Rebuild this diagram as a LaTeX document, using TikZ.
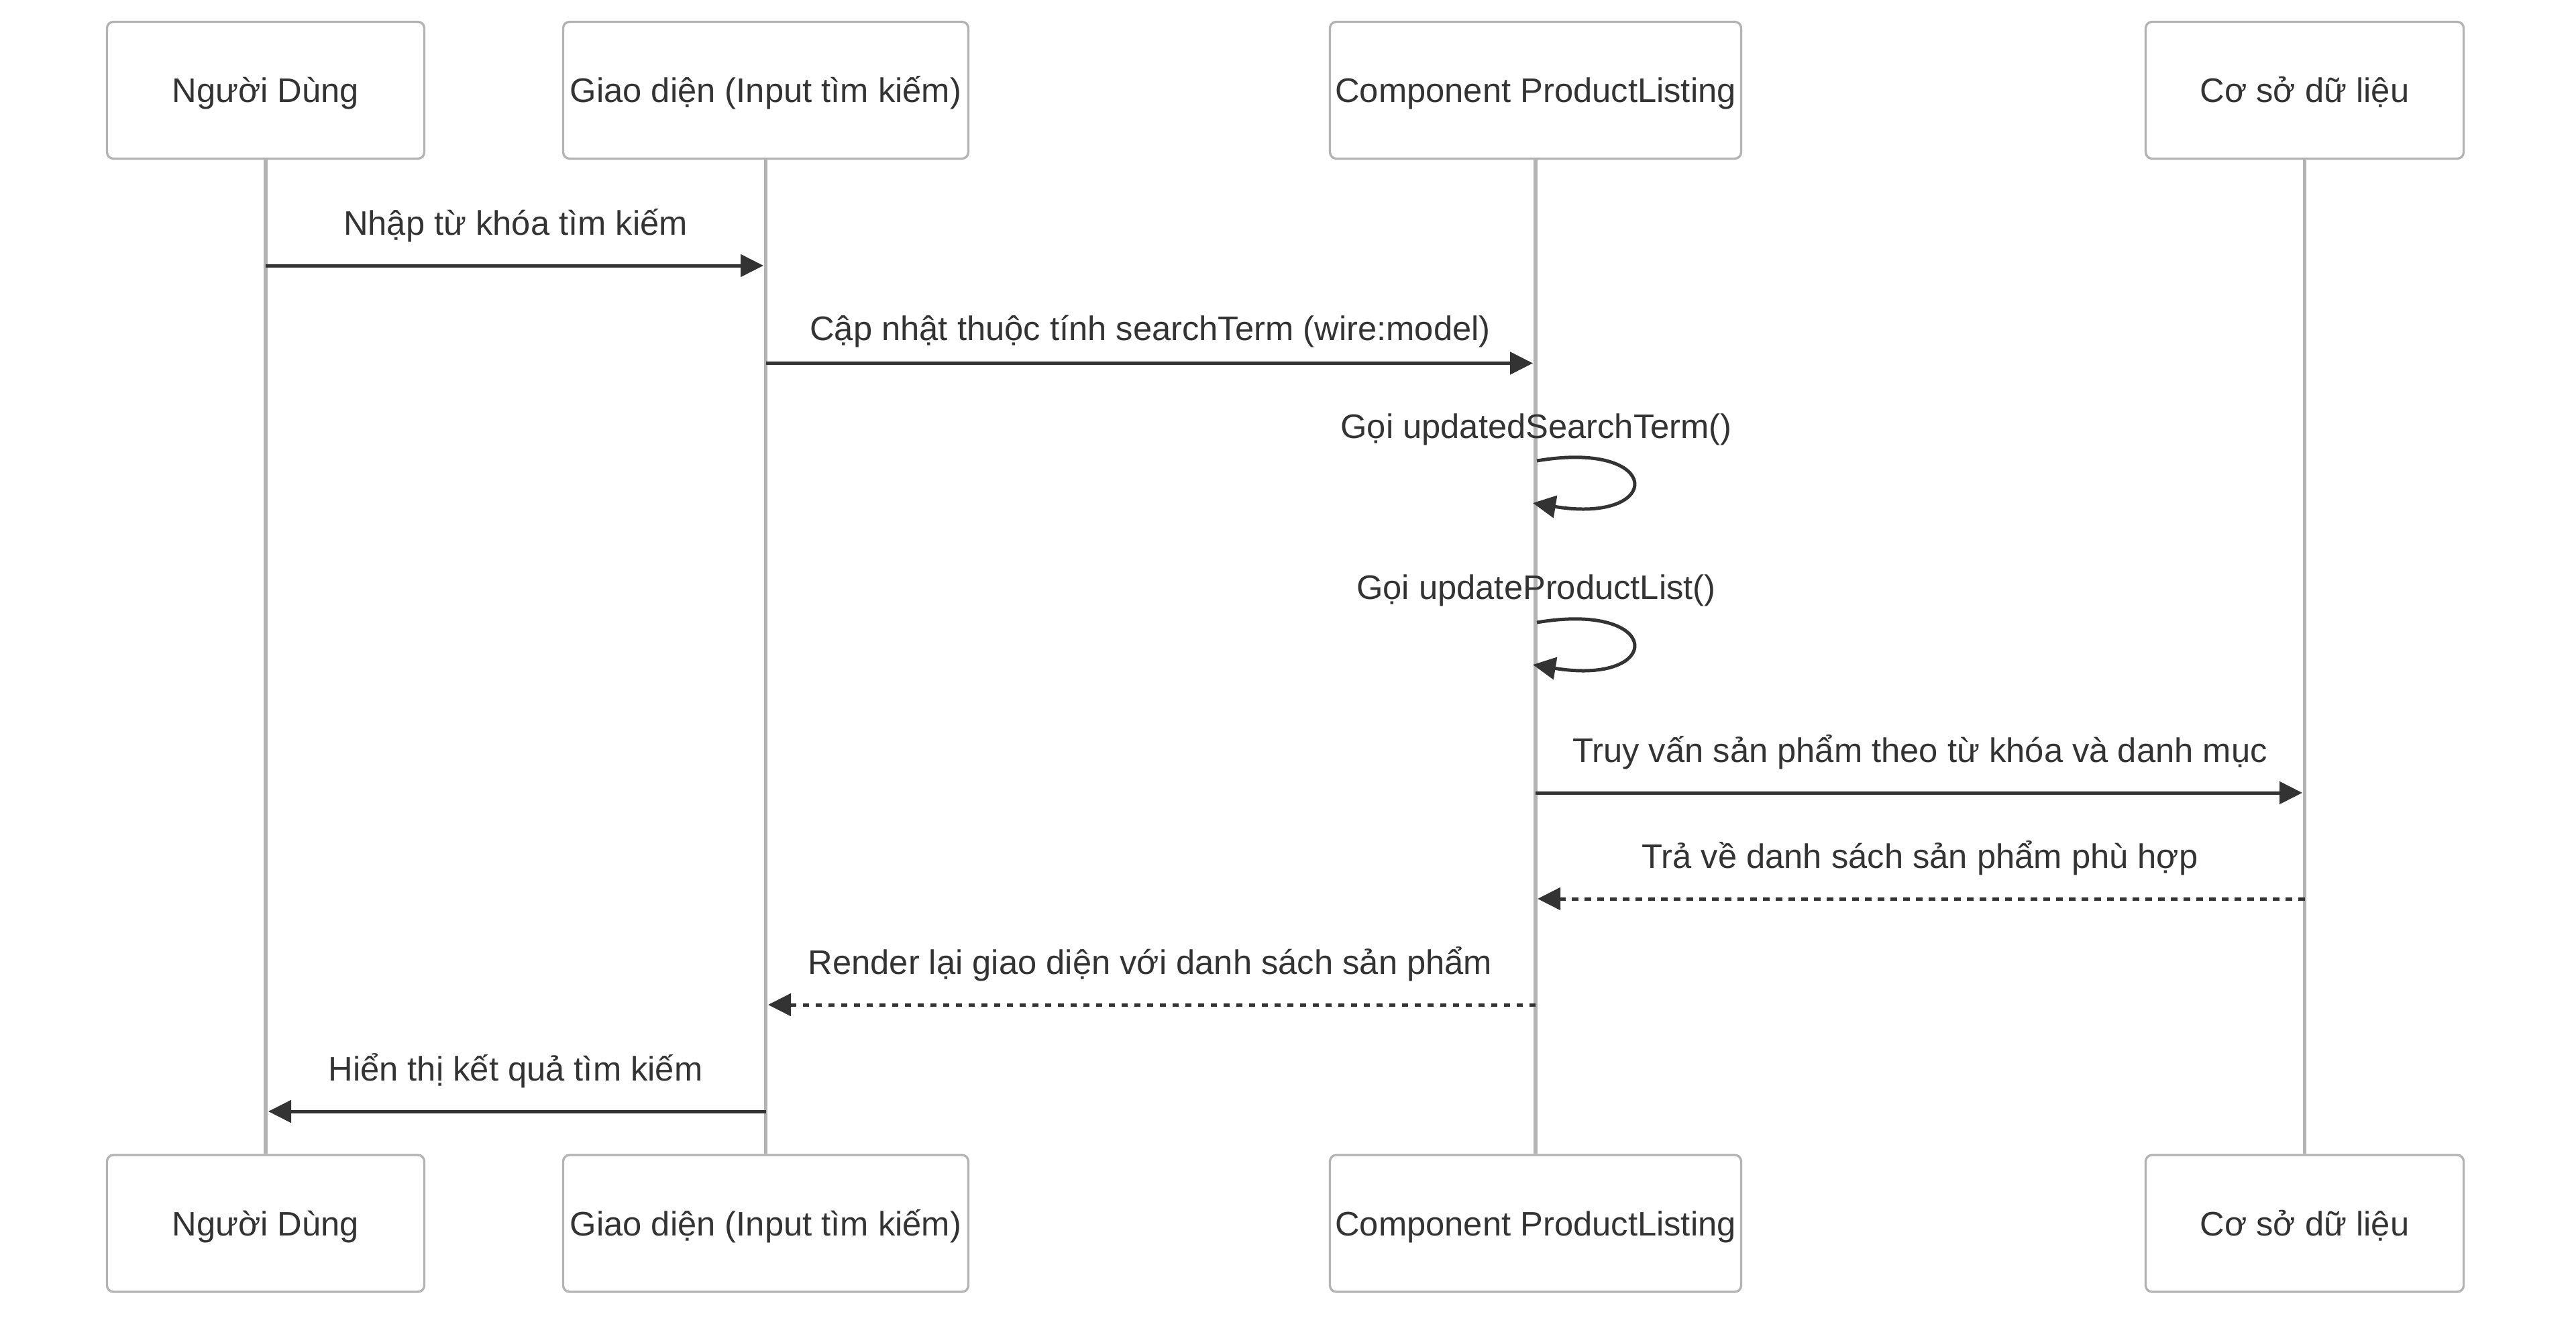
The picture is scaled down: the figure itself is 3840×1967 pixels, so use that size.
\documentclass[tikz,border=0pt]{standalone}
\usepackage{fontspec}
\setmainfont{Liberation Sans}
\usetikzlibrary{arrows.meta}
\definecolor{boxline}{HTML}{B3B3B3}
\definecolor{ink}{HTML}{333333}
\begin{document}
\begin{tikzpicture}[x=1pt,y=-1pt,
  actor/.style={draw=boxline, line width=3.3pt, fill=white, rounded corners=9.5pt,
    inner sep=0pt, minimum height=204pt, text height=36.5pt, text depth=0pt,
    text=ink, font=\fontsize{50.7pt}{60pt}\selectfont},
  lifeline/.style={draw=boxline, line width=5.5pt},
  msg/.style={draw=ink, line width=5pt, -{Triangle[length=34pt,width=33pt]}},
  reply/.style={msg, dash pattern=on 9.5pt off 9.5pt},
  lbl/.style={anchor=base, inner sep=0pt, text=ink, font=\fontsize{50.7pt}{60pt}\selectfont}]

\useasboundingbox (0,0) rectangle (3840,1967);
\fill[white] (0,0) rectangle (3840,1967);

% actors top
\node[actor, minimum width=473pt] (u) at (396,134.5) {Người Dùng};
\node[actor, minimum width=604pt] (g) at (1141.5,134.5) {Giao diện (Input tìm kiếm)};
\node[actor, minimum width=613pt] (c) at (2289,134.5) {Component ProductListing};
\node[actor, minimum width=474pt] (d) at (3435.5,134.5) {Cơ sở dữ liệu};
% actors bottom
\node[actor, minimum width=473pt] (ub) at (396,1824) {Người Dùng};
\node[actor, minimum width=604pt] (gb) at (1141.5,1824) {Giao diện (Input tìm kiếm)};
\node[actor, minimum width=613pt] (cb) at (2289,1824) {Component ProductListing};
\node[actor, minimum width=474pt] (db) at (3435.5,1824) {Cơ sở dữ liệu};

% lifelines
\draw[lifeline] (u.south) -- (ub.north);
\draw[lifeline] (g.south) -- (gb.north);
\draw[lifeline] (c.south) -- (cb.north);
\draw[lifeline] (d.south) -- (db.north);

% message end points
\coordinate (m1a) at (396,396);    \coordinate (m1b) at (1138,396);
\coordinate (m2a) at (1141.5,541.5); \coordinate (m2b) at (2285,541.5);
\coordinate (l1a) at (2291,687);   \coordinate (l1b) at (2285,750);
\coordinate (l2a) at (2291,928);   \coordinate (l2b) at (2285,991);
\coordinate (m5a) at (2289,1182);  \coordinate (m5b) at (3432,1182);
\coordinate (m6a) at (3435.5,1340); \coordinate (m6b) at (2292,1340);
\coordinate (m7a) at (2289,1498);  \coordinate (m7b) at (1145,1498);
\coordinate (m8a) at (1141.5,1657); \coordinate (m8b) at (400,1657);

% messages
\draw[msg] (m1a) -- (m1b);
\node[lbl] (t1) at (768.5,350) {Nhập từ khóa tìm kiếm};

\draw[msg] (m2a) -- (m2b);
\node[lbl] (t2) at (1714.5,507) {Cập nhật thuộc tính searchTerm (wire:model)};

\draw[msg] (l1a) .. controls (2481,655) and (2481,782) .. (l1b);
\node[lbl] (t3) at (2290,653) {Gọi updatedSearchTerm()};

\draw[msg] (l2a) .. controls (2481,896) and (2481,1023) .. (l2b);
\node[lbl] (t4) at (2290,893) {Gọi updateProductList()};

\draw[msg] (m5a) -- (m5b);
\node[lbl] (t5) at (2862,1136) {Truy vấn sản phẩm theo từ khóa và danh mục};

\draw[reply] (m6a) -- (m6b);
\node[lbl] (t6) at (2862,1294) {Trả về danh sách sản phẩm phù hợp};

\draw[reply] (m7a) -- (m7b);
\node[lbl] (t7) at (1714.5,1452) {Render lại giao diện với danh sách sản phẩm};

\draw[msg] (m8a) -- (m8b);
\node[lbl] (t8) at (768.5,1611) {Hiển thị kết quả tìm kiếm};

\end{tikzpicture}
\end{document}
